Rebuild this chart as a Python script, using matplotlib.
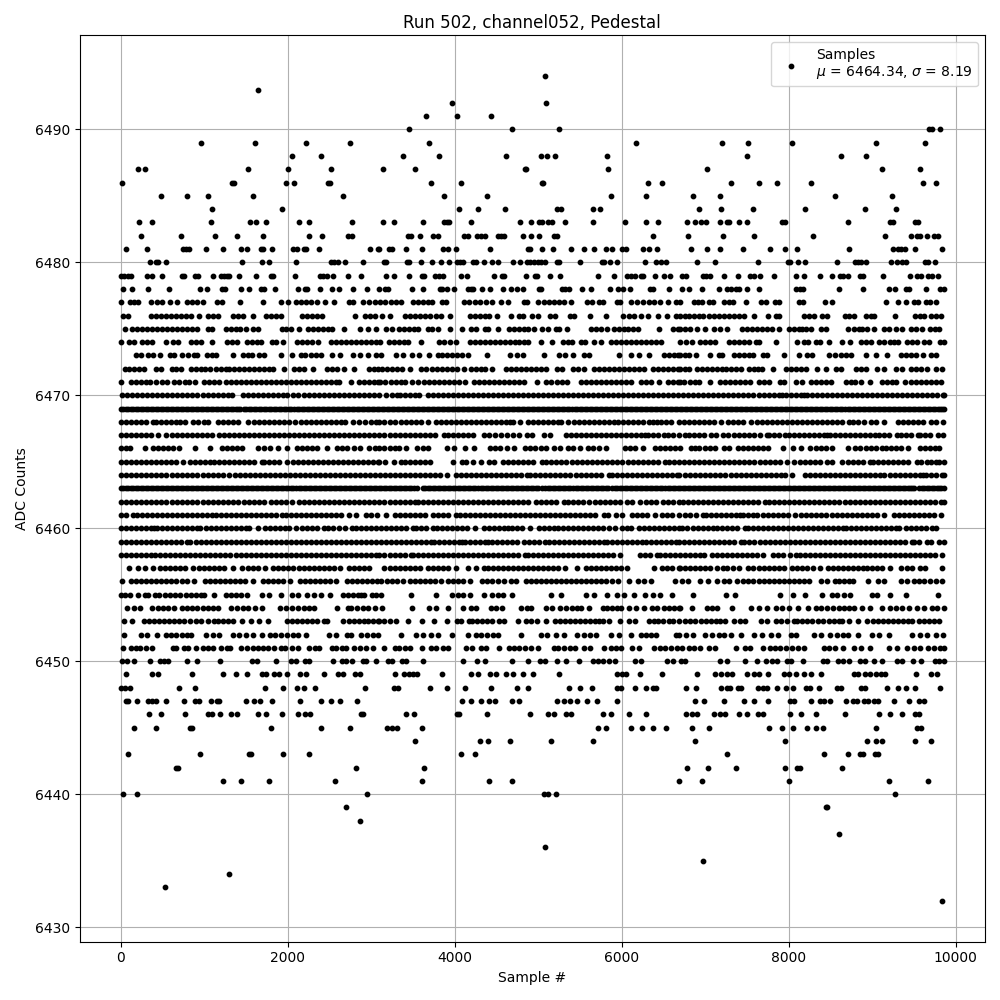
# Pedestal scan, ADC counts per sample
import matplotlib
matplotlib.use('Agg')
import matplotlib.pyplot as plt

# sample numbers, one list per ADC level
# (inside the solid bands single points can't be told apart, so spacing there is estimated)
s6432 = [9836]
s6433 = [536]
s6434 = [1292]
s6435 = [6980]
s6436 = [5084]
s6437 = [8600]
s6438 = [2864]
s6439 = [2696, 8444, 8456]
s6440 = [32, 200, 2948, 5072, 5120, 5216, 9272]
s6441 = [1220, 1436, 1772, 2564, 3608, 4412, 4688, 6692, 6968, 8000, 9200, 9668]
s6442 = [668, 692, 2816, 3632, 6788, 7040, 7376, 7952, 8096, 8132, 8636]
s6443 = [92, 956, 1532, 1556, 1940, 2252, 4076, 4244, 7268, 8420, 8708, 8852, 8888, 9032, 9068]
s6444 = [3524, 4304, 4400, 4664, 5156, 5660, 6884, 7952, 8936, 9044, 9116, 9512, 9704]
s6445 = [164, 428, 836, 860, 1796, 2396, 2744, 3188, 3248, 3308, 3608, 5720, 5816, 6116, 6248, 6380, 6536,
         6848, 7052, 7760, 7916, 8048, 8216, 8324, 8408, 9044, 9536, 9584]
s6446 = [344, 488, 776, 1040, 1088, 1184, 1316, 1388, 1640, 1736, 1928, 2120, 2204, 2264, 2876, 2900, 3416,
         3512, 4028, 4052, 4388, 4904, 5120, 5192, 5336, 5396, 5780, 5876, 6092, 6296, 6776, 6848, 6908, 7112,
         7184, 7244, 7412, 7508, 7628, 7688, 8012, 8144, 8324, 8672, 9080, 9212, 9356, 9512, 9560]
s6447 = [68, 92, 200, 332, 380, 428, 544, 764, 896, 944, 1076, 1148, 1172, 1496, 1592, 1664, 1808, 2144, 2396,
         2516, 2624, 2828, 4088, 4196, 4316, 4412, 4484, 4688, 4772, 5228, 5312, 5384, 5468, 5588, 5708, 5948,
         6884, 6992, 7232, 7472, 7592, 7748, 8012, 8060, 8264, 8372, 8420, 8492, 8684, 8768, 8816, 8900, 8948,
         9020, 9068, 9260, 9440, 9560, 9620]
s6448 = [0, 56, 116, 704, 896, 1724, 1940, 2108, 2192, 2324, 2924, 3272, 3320, 3704, 3904, 4124, 4432, 4748,
         4880, 5372, 5504, 5648, 5948, 5996, 6164, 6296, 6380, 6416, 6776, 6896, 7196, 7268, 7304, 7400, 7436,
         7628, 7688, 7736, 7856, 7964, 8048, 8204, 8252, 8360, 8576, 8624, 8864, 8912, 9176, 9308, 9404, 9512, 9812]
s6449 = [68, 380, 452, 860, 1220, 1376, 1508, 1688, 1736, 1832, 1892, 1988, 2144, 2216, 2432, 2600, 2660, 2804,
         2864, 3284, 3392, 3452, 3500, 3548, 3848, 4196, 4280, 4424, 4496, 4616, 4700, 4820, 4940, 5252, 5948,
         6008, 6056, 6224, 6488, 6908, 7124, 7196, 7268, 7328, 7508, 7592, 7640, 7748, 7940, 8000, 8088, 8180,
         8264, 8384, 8780, 8828, 8912, 8972, 9044, 9104, 9152, 9524, 9704, 9776]
s6450 = [20, 80, 164, 356, 476, 524, 572, 800, 920, 1184, 1568, 1628, 1856, 2036, 2096, 2204, 2252, 2540, 2648,
         2696, 2768, 2900, 2936, 3056, 3200, 3248, 3368, 3416, 3620, 4100, 4268, 4364, 4688, 4880, 5024, 5084,
         5228, 5336, 5492, 5660, 5720, 5780, 5852, 5924, 6164, 6236, 6548, 6620, 6716, 6764, 7184, 7268, 7484,
         7616, 7724, 7796, 7856, 7976, 8024, 8176, 8408, 8456, 8588, 8648, 8720, 8852, 8912, 9020, 9116, 9296,
         9356, 9488, 9584, 9752, 9800, 9860]
s6451 = [32, 128, 188, 236, 308, 380, 632, 668, 764, 812, 908, 980, 1040, 1100, 1196, 1268, 1304, 1436, 1508,
         1580, 1640, 1700, 1760, 1832, 1916, 1964, 2048, 2120, 2252, 2324, 2372, 2528, 2576, 2648, 2696, 2792,
         2864, 2936, 3020, 3152, 3284, 3332, 3404, 3464, 3604, 3716, 3776, 3860, 3920, 4136, 4208, 4316, 4376,
         4532, 4652, 4712, 4772, 4844, 4916, 5000, 5192, 5240, 5312, 5384, 5444, 5552, 5624, 5792, 5876, 5936,
         5996, 6128, 6212, 6392, 6464, 6524, 6596, 6668, 6728, 6812, 6872, 6944, 7052, 7124, 7376, 7484, 7544,
         7688, 7772, 7832, 7892, 7964, 8036, 8108, 8180, 8420, 8480, 8552, 8648, 8780, 8872, 8972, 9200, 9296,
         9416, 9500, 9572, 9668, 9740, 9812, 9860]
s6452 = [36, 240, 312, 440, 548, 604, 660, 740, 790, 840, 1020, 1100, 1172, 1340, 1412, 1496, 1588, 1688, 1788,
         1850, 1920, 1990, 2060, 2120, 2220, 2492, 2580, 2708, 2760, 2880, 2950, 3020, 3080, 3352, 3540, 3620,
         3712, 3796, 3964, 4164, 4252, 4320, 4390, 4460, 4524, 4792, 5040, 5104, 5212, 5312, 5460, 5552, 5620,
         5692, 5872, 5964, 6112, 6228, 6290, 6350, 6412, 6652, 6684, 6770, 6852, 7004, 7084, 7164, 7224, 7316,
         7432, 7588, 7684, 7784, 7872, 8024, 8084, 8304, 8384, 8492, 8584, 8650, 8716, 8836, 8996, 9084, 9204,
         9484, 9572, 9664, 9764, 9844]
s6453 = [40, 140, 280, 340, 400, 460, 520, 580, 640, 700, 760, 830, 900, 960, 1040, 1112, 1170, 1230, 1290, 1350,
         1448, 1560, 1660, 1760, 1988, 2050, 2110, 2170, 2230, 2290, 2350, 2440, 2468, 2660, 2732, 2790, 2850,
         2910, 2960, 3020, 3080, 3092, 3160, 3230, 3292, 3444, 3612, 3752, 3904, 4032, 4072, 4172, 4212, 4270,
         4330, 4390, 4450, 4532, 4592, 4764, 4860, 4920, 4990, 5092, 5200, 5260, 5320, 5380, 5440, 5500, 5560,
         5620, 5680, 5732, 5772, 5852, 5980, 6092, 6164, 6324, 6392, 6432, 6500, 6564, 6612, 6692, 6760, 6824,
         6884, 6950, 7010, 7070, 7130, 7184, 7244, 7344, 7420, 7484, 7664, 7744, 7844, 7910, 7980, 8064, 8104,
         8164, 8224, 8284, 8350, 8410, 8480, 8540, 8604, 8644, 8724, 8836, 8944, 9010, 9070, 9130, 9190, 9250,
         9310, 9370, 9430, 9484, 9564, 9624, 9684, 9744, 9804]
s6454 = [80, 160, 232, 380, 450, 510, 570, 640, 740, 800, 860, 920, 980, 1040, 1100, 1160, 1320, 1392, 1460, 1530,
         1608, 1692, 1908, 1980, 2050, 2120, 2190, 2260, 2312, 2588, 2720, 2760, 2830, 2900, 2960, 3052, 3132,
         3492, 3692, 3772, 3924, 4104, 4192, 4252, 4432, 4492, 4572, 4792, 4872, 4920, 5092, 5172, 5264, 5340,
         5400, 5460, 5512, 5612, 5772, 5830, 5890, 5950, 5992, 6092, 6172, 6264, 6364, 6424, 6512, 6570, 6630,
         6692, 6704, 6844, 7024, 7084, 7144, 7324, 7552, 7644, 7744, 7844, 7924, 8004, 8112, 8236, 8324, 8390,
         8460, 8530, 8600, 8660, 8724, 8784, 8884, 8972, 9116, 9212, 9290, 9356, 9444, 9536, 9624, 9724, 9784, 9856]
s6455 = [0, 50, 108, 208, 288, 332, 412, 464, 532, 590, 650, 708, 780, 840, 900, 960, 1000, 1112, 1260, 1320, 1380,
         1440, 1512, 1688, 1780, 1920, 2048, 2120, 2232, 2320, 2400, 2508, 2660, 2720, 2780, 2840, 2880, 2920, 3008,
         3060, 3124, 3472, 3772, 3972, 4040, 4104, 4188, 4356, 4444, 4524, 4580, 4684, 5160, 5280, 5568, 5664, 5824,
         5940, 6024, 6144, 6280, 6372, 6460, 6600, 6856, 7252, 7360, 7900, 8056, 8200, 8404, 8524, 8584, 8664, 8740,
         9000, 9060, 9216, 9412, 9796]
s6456 = [12, 120, 180, 240, 300, 360, 420, 480, 540, 600, 660, 740, 800, 880, 1010, 1070, 1130, 1190, 1250, 1310,
         1370, 1430, 1490, 1590, 1700, 1770, 1830, 1890, 1940, 2028, 2150, 2210, 2270, 2330, 2390, 2450, 2510, 2576,
         2710, 2770, 2830, 2890, 2950, 3010, 3070, 3124, 3190, 3250, 3310, 3380, 3470, 3530, 3590, 3650, 3700, 3770,
         3840, 3920, 3980, 4040, 4100, 4190, 4330, 4390, 4450, 4520, 4596, 4670, 4730, 4850, 4910, 4970, 5030, 5090,
         5150, 5210, 5270, 5330, 5390, 5450, 5510, 5570, 5630, 5690, 5750, 5810, 5880, 5960, 6084, 6192, 6272, 6352,
         6644, 6724, 6792, 6944, 7036, 7144, 7224, 7284, 7384, 7450, 7512, 7580, 7640, 7700, 7760, 7820, 7880, 7940,
         8000, 8060, 8120, 8180, 8250, 8384, 8456, 8556, 8604, 8664, 8724, 8770, 8950, 9070, 9144, 9344, 9420, 9500,
         9564, 9624, 9700, 9770, 9835]
s6457 = [104, 212, 288, 392, 470, 530, 590, 650, 710, 765, 872, 940, 1000, 1060, 1120, 1180, 1240, 1340, 1456, 1520,
         1580, 1640, 1730, 1830, 1890, 1950, 2010, 2070, 2130, 2190, 2250, 2310, 2370, 2430, 2490, 2550, 2630, 2740,
         2800, 2860, 2920, 2980, 3160, 3220, 3280, 3340, 3400, 3460, 3520, 3585, 3680, 3740, 3805, 3860, 3920, 4016,
         4156, 4252, 4352, 4400, 4460, 4520, 4580, 4640, 4700, 4760, 4820, 4880, 4940, 5000, 5060, 5120, 5180, 5236,
         5320, 5460, 5572, 5630, 5690, 5750, 5810, 5870, 5930, 5990, 6070, 6392, 6480, 6540, 6600, 6684, 6700, 6760,
         6820, 6880, 6940, 7000, 7056, 7144, 7216, 7264, 7330, 7410, 7520, 7580, 7640, 7700, 7760, 7820, 7880, 7940,
         8036, 8100, 8160, 8220, 8296, 8380, 8472, 8530, 8590, 8650, 8716, 8772, 8830, 8890, 8936, 9000, 9060, 9120,
         9216, 9352, 9420, 9476, 9572, 9636, 9836]
s6458 = [0, 60, 120, 180, 240, 300, 360, 412, 468, 530, 590, 650, 710, 770, 830, 890, 950, 1010, 1070, 1130, 1190,
         1250, 1312, 1380, 1440, 1500, 1560, 1620, 1680, 1740, 1800, 1860, 1920, 1980, 2040, 2100, 2164, 2220, 2280,
         2340, 2400, 2460, 2520, 2580, 2640, 2700, 2760, 2820, 2880, 2940, 3000, 3060, 3092, 3160, 3220, 3280, 3340,
         3400, 3476, 3500, 3560, 3620, 3680, 3740, 3800, 3860, 3920, 3980, 4040, 4100, 4160, 4220, 4280, 4340, 4400,
         4460, 4520, 4580, 4640, 4700, 4760, 4844, 4880, 4940, 5000, 5060, 5120, 5180, 5240, 5300, 5360, 5420, 5480,
         5540, 5600, 5660, 5720, 5780, 5840, 5900, 5984, 6220, 6280, 6340, 6424, 6460, 6520, 6580, 6640, 6700, 6760,
         6820, 6880, 6940, 6988, 7080, 7140, 7200, 7260, 7320, 7380, 7440, 7500, 7560, 7620, 7696, 7812, 7870, 7930,
         8016, 8084, 8140, 8200, 8260, 8320, 8380, 8440, 8500, 8560, 8620, 8680, 8740, 8800, 8860, 8920, 8980, 9040,
         9100, 9160, 9220, 9280, 9340, 9400, 9460, 9520, 9580, 9640, 9700, 9760, 9836]
s6459 = [0, 60, 120, 180, 240, 300, 360, 420, 480, 540, 600, 660, 720, 792, 836, 900, 960, 1020, 1080, 1140, 1200,
         1260, 1320, 1380, 1440, 1500, 1560, 1620, 1680, 1740, 1800, 1860, 1920, 1980, 2040, 2100, 2160, 2220, 2280,
         2340, 2400, 2460, 2520, 2580, 2640, 2700, 2760, 2820, 2880, 2940, 3000, 3060, 3120, 3180, 3240, 3300, 3360,
         3420, 3480, 3540, 3600, 3660, 3716, 3752, 3812, 3872, 3932, 3992, 4052, 4092, 4124, 4184, 4244, 4304, 4364,
         4404, 4452, 4512, 4572, 4632, 4684, 4752, 4828, 4888, 4948, 5008, 5084, 5128, 5188, 5248, 5308, 5368, 5428,
         5488, 5548, 5608, 5668, 5728, 5784, 5820, 5880, 5940, 6000, 6060, 6120, 6180, 6244, 6292, 6352, 6412, 6472,
         6532, 6592, 6652, 6692, 6752, 6812, 6872, 6932, 6992, 7052, 7112, 7172, 7232, 7292, 7352, 7428, 7472, 7532,
         7592, 7652, 7712, 7772, 7832, 7892, 7952, 8012, 8072, 8132, 8192, 8252, 8312, 8372, 8432, 8492, 8552, 8612,
         8672, 8732, 8792, 8852, 8912, 8972, 9032, 9092, 9152, 9212, 9276, 9332, 9392, 9476, 9504, 9564, 9656, 9712,
         9804, 9856]
s6460 = [0, 60, 120, 180, 240, 300, 360, 404, 436, 496, 556, 616, 676, 736, 796, 856, 912, 956, 1016, 1076, 1136,
         1196, 1256, 1316, 1376, 1436, 1496, 1540, 1640, 1732, 1792, 1852, 1912, 1972, 2020, 2100, 2176, 2236, 2296,
         2356, 2432, 2488, 2548, 2620, 2688, 2772, 2820, 2880, 2940, 3000, 3060, 3120, 3180, 3240, 3300, 3360, 3420,
         3504, 3540, 3600, 3660, 3744, 3788, 3848, 3908, 3968, 4028, 4088, 4148, 4244, 4352, 4412, 4472, 4532, 4592,
         4644, 4688, 4748, 4808, 4904, 5012, 5072, 5132, 5192, 5240, 5300, 5360, 5420, 5480, 5540, 5600, 5660, 5720,
         5780, 5844, 5924, 6000, 6060, 6116, 6212, 6272, 6332, 6392, 6452, 6512, 6572, 6632, 6684, 6724, 6784, 6852,
         6912, 6972, 7032, 7096, 7144, 7204, 7264, 7324, 7384, 7476, 7512, 7572, 7632, 7692, 7752, 7812, 7872, 7932,
         7992, 8052, 8112, 8172, 8232, 8292, 8352, 8412, 8472, 8532, 8592, 8656, 8692, 8752, 8812, 8872, 8932, 8992,
         9052, 9112, 9172, 9232, 9292, 9324, 9412, 9472, 9532, 9592, 9652, 9716, 9772]
s6461 = [8, 60, 152, 196, 256, 316, 376, 436, 496, 556, 616, 676, 736, 796, 856, 916, 976, 1036, 1096, 1140, 1196,
         1256, 1316, 1376, 1436, 1496, 1556, 1616, 1676, 1736, 1796, 1856, 1932, 1976, 2036, 2096, 2156, 2216, 2276,
         2336, 2396, 2456, 2516, 2576, 2636, 2732, 2816, 2940, 3000, 3072, 3180, 3280, 3340, 3400, 3460, 3520, 3584,
         3640, 3744, 3800, 3860, 3920, 4012, 4060, 4120, 4180, 4240, 4300, 4360, 4420, 4480, 4540, 4600, 4660, 4720,
         4780, 4840, 4904, 4960, 5020, 5080, 5140, 5200, 5260, 5320, 5380, 5440, 5500, 5560, 5620, 5680, 5784, 5840,
         5932, 6008, 6120, 6180, 6240, 6300, 6404, 6480, 6540, 6600, 6684, 6764, 6824, 6890, 6976, 7012, 7072, 7132,
         7192, 7252, 7312, 7372, 7416, 7452, 7512, 7572, 7616, 7692, 7752, 7812, 7872, 7932, 7992, 8076, 8152, 8212,
         8272, 8332, 8392, 8452, 8516, 8580, 8640, 8700, 8760, 8820, 8880, 8940, 9000, 9060, 9144, 9260, 9320, 9380,
         9440, 9500, 9560, 9620, 9680, 9740, 9828]
s6462 = [0, 60, 120, 180, 240, 300, 360, 420, 480, 540, 620, 680, 740, 800, 860, 920, 980, 1040, 1100, 1160, 1220,
         1280, 1340, 1404, 1480, 1540, 1600, 1660, 1720, 1804, 1856, 1916, 1976, 2052, 2136, 2196, 2256, 2316, 2376,
         2436, 2496, 2556, 2616, 2676, 2736, 2796, 2856, 2916, 2976, 3032, 3092, 3160, 3220, 3280, 3340, 3400, 3460,
         3524, 3560, 3620, 3680, 3740, 3800, 3860, 3920, 3980, 4040, 4100, 4160, 4220, 4280, 4340, 4400, 4460, 4520,
         4580, 4640, 4700, 4760, 4820, 4884, 4980, 5040, 5100, 5160, 5220, 5312, 5360, 5420, 5480, 5540, 5612, 5680,
         5740, 5800, 5860, 5920, 5980, 6064, 6128, 6224, 6292, 6352, 6412, 6492, 6552, 6612, 6684, 6732, 6792, 6852,
         6912, 6972, 7032, 7092, 7152, 7212, 7272, 7332, 7392, 7452, 7512, 7572, 7632, 7716, 7764, 7824, 7884, 7944,
         8004, 8064, 8124, 8184, 8244, 8304, 8364, 8424, 8484, 8544, 8604, 8676, 8740, 8800, 8860, 8920, 8980, 9040,
         9100, 9160, 9220, 9280, 9340, 9400, 9460, 9520, 9580, 9640, 9700, 9760, 9820, 9856]
s6463 = [0, 60, 120, 180, 240, 300, 360, 420, 480, 540, 600, 660, 720, 780, 840, 900, 960, 1020, 1080, 1140, 1200,
         1260, 1320, 1380, 1440, 1500, 1560, 1620, 1680, 1740, 1800, 1860, 1920, 1980, 2040, 2100, 2160, 2220, 2280,
         2340, 2400, 2460, 2520, 2580, 2640, 2700, 2760, 2820, 2880, 2940, 3000, 3060, 3120, 3180, 3240, 3300, 3360,
         3420, 3480, 3544, 3620, 3680, 3740, 3800, 3860, 3920, 3980, 4040, 4100, 4160, 4220, 4280, 4340, 4400, 4460,
         4520, 4580, 4640, 4700, 4760, 4820, 4880, 4940, 5000, 5044, 5088, 5148, 5208, 5268, 5328, 5388, 5448, 5508,
         5568, 5628, 5688, 5748, 5808, 5884, 5920, 5980, 6040, 6100, 6160, 6220, 6280, 6340, 6400, 6460, 6520, 6580,
         6640, 6700, 6760, 6820, 6880, 6940, 7000, 7060, 7120, 7180, 7240, 7300, 7360, 7420, 7480, 7540, 7600, 7660,
         7720, 7780, 7840, 7900, 7960, 8020, 8080, 8140, 8200, 8260, 8320, 8380, 8440, 8500, 8560, 8620, 8680, 8740,
         8800, 8860, 8920, 8980, 9040, 9100, 9160, 9220, 9280, 9340, 9400, 9460, 9508, 9564, 9624, 9684, 9744, 9804, 9856]
# second pass over the two blackest bands, the first lists leave them too beaded
s6463_b = [30, 90, 150, 210, 270, 330, 390, 450, 510, 570, 630, 690, 750, 810, 870, 930, 990, 1050, 1110, 1170, 1230,
           1290, 1350, 1410, 1470, 1530, 1590, 1650, 1710, 1770, 1830, 1890, 1950, 2010, 2070, 2130, 2190, 2250, 2310,
           2370, 2430, 2490, 2550, 2610, 2670, 2730, 2790, 2850, 2910, 2970, 3030, 3090, 3150, 3210, 3270, 3330, 3390,
           3450, 3510, 3650, 3710, 3770, 3830, 3890, 3950, 4010, 4070, 4130, 4190, 4250, 4310, 4370, 4430, 4490, 4550,
           4610, 4670, 4730, 4790, 4850, 4910, 4970, 5118, 5178, 5238, 5298, 5358, 5418, 5478, 5538, 5598, 5658, 5718,
           5778, 5838, 5950, 6010, 6070, 6130, 6190, 6250, 6310, 6370, 6430, 6490, 6550, 6610, 6670, 6730, 6790, 6850,
           6910, 6970, 7030, 7090, 7150, 7210, 7270, 7330, 7390, 7450, 7510, 7570, 7630, 7690, 7750, 7810, 7870, 7930,
           7990, 8050, 8110, 8170, 8230, 8290, 8350, 8410, 8470, 8530, 8590, 8650, 8710, 8770, 8830, 8890, 8950, 9010,
           9070, 9130, 9190, 9250, 9310, 9370, 9430, 9484, 9594, 9654, 9714, 9774, 9830]
s6464 = [8, 68, 128, 188, 248, 308, 368, 428, 488, 540, 620, 680, 740, 800, 860, 920, 980, 1040, 1100, 1160, 1220,
         1300, 1368, 1428, 1488, 1548, 1608, 1668, 1728, 1788, 1848, 1908, 1968, 2028, 2088, 2148, 2208, 2268, 2328,
         2388, 2448, 2508, 2568, 2628, 2688, 2748, 2808, 2868, 2928, 2988, 3048, 3108, 3168, 3228, 3288, 3348, 3408,
         3468, 3528, 3588, 3648, 3708, 3768, 3828, 3904, 4012, 4072, 4132, 4192, 4252, 4312, 4372, 4432, 4492, 4552,
         4612, 4672, 4732, 4792, 4864, 4908, 4968, 5028, 5088, 5148, 5208, 5268, 5328, 5388, 5448, 5508, 5568, 5628,
         5688, 5748, 5844, 5880, 5940, 6000, 6060, 6124, 6180, 6240, 6300, 6360, 6420, 6480, 6540, 6600, 6660, 6684,
         6764, 6824, 6884, 6944, 7004, 7064, 7124, 7184, 7244, 7316, 7372, 7432, 7492, 7552, 7612, 7672, 7732, 7792,
         7852, 7912, 7956, 8044, 8192, 8252, 8312, 8372, 8432, 8492, 8552, 8612, 8672, 8732, 8792, 8852, 8912, 8972,
         9032, 9092, 9148, 9220, 9280, 9340, 9400, 9460, 9520, 9580, 9616, 9652, 9712, 9772, 9832, 9856]
s6465 = [0, 60, 120, 180, 240, 300, 360, 420, 480, 540, 600, 660, 752, 828, 888, 948, 1008, 1072, 1116, 1176, 1236,
         1296, 1356, 1416, 1476, 1536, 1596, 1692, 1716, 1776, 1836, 1896, 1992, 2060, 2120, 2180, 2240, 2300, 2360,
         2420, 2480, 2540, 2600, 2660, 2720, 2780, 2840, 2900, 2960, 3020, 3080, 3100, 3172, 3268, 3356, 3400, 3460,
         3520, 3580, 3640, 3704, 3980, 4084, 4132, 4224, 4312, 4412, 4472, 4580, 4640, 4700, 4760, 4820, 4880, 4940,
         5044, 5100, 5160, 5220, 5280, 5340, 5400, 5460, 5520, 5580, 5640, 5700, 5760, 5820, 5880, 5940, 6004, 6080,
         6140, 6200, 6260, 6320, 6380, 6440, 6524, 6572, 6632, 6692, 6752, 6812, 6872, 6932, 6992, 7052, 7112, 7172,
         7232, 7292, 7352, 7412, 7472, 7532, 7592, 7652, 7712, 7772, 7832, 7892, 7976, 8064, 8140, 8200, 8260, 8320,
         8380, 8456, 8516, 8636, 8712, 8772, 8832, 8892, 8976, 9012, 9072, 9132, 9192, 9252, 9312, 9372, 9432, 9536,
         9592, 9656, 9704, 9764, 9804, 9856]
s6466 = [0, 60, 112, 292, 388, 452, 508, 568, 628, 700, 892, 1072, 1208, 1268, 1328, 1388, 1452, 1648, 1720, 1792,
         1888, 1992, 2108, 2168, 2228, 2288, 2352, 2468, 2588, 2648, 2708, 2792, 2868, 2972, 3048, 3100, 3160, 3220,
         3280, 3332, 3412, 3552, 3620, 3684, 3912, 3992, 4124, 4228, 4424, 4480, 4540, 4624, 4712, 4840, 4900, 4964,
         5032, 5092, 5192, 5264, 5360, 5420, 5504, 5600, 5660, 5724, 5812, 6040, 6100, 6164, 6252, 6400, 6460, 6520,
         6580, 6640, 6696, 6832, 6876, 6924, 7004, 7060, 7116, 7232, 7292, 7396, 7452, 7512, 7572, 7632, 7692, 7748,
         7932, 8056, 8152, 8256, 8324, 8384, 8444, 8516, 8716, 8792, 8856, 8932, 8992, 9052, 9116, 9172, 9232, 9292,
         9352, 9436, 9572, 9632, 9692, 9756, 9804]
s6467 = [0, 60, 120, 180, 240, 300, 360, 452, 540, 616, 676, 736, 796, 856, 916, 976, 1036, 1096, 1172, 1240, 1300,
         1360, 1420, 1480, 1540, 1600, 1660, 1720, 1780, 1840, 1900, 1960, 2020, 2080, 2140, 2200, 2260, 2320, 2380,
         2440, 2500, 2560, 2620, 2680, 2740, 2800, 2860, 2920, 2980, 3040, 3100, 3160, 3220, 3280, 3340, 3400, 3460,
         3520, 3580, 3640, 3700, 3760, 3876, 3920, 3980, 4040, 4100, 4160, 4224, 4348, 4408, 4484, 4560, 4628, 4700,
         4772, 4868, 4932, 5076, 5140, 5332, 5392, 5452, 5512, 5572, 5632, 5692, 5752, 5812, 5872, 5932, 5992, 6052,
         6112, 6172, 6232, 6284, 6320, 6380, 6440, 6504, 6560, 6620, 6684, 6756, 6804, 6864, 6924, 6984, 7076, 7132,
         7212, 7272, 7348, 7412, 7472, 7532, 7592, 7652, 7736, 7764, 7824, 7884, 7956, 8000, 8060, 8120, 8180, 8240,
         8300, 8360, 8420, 8464, 8492, 8552, 8612, 8672, 8732, 8792, 8852, 8912, 8972, 9036, 9084, 9144, 9204, 9304,
         9344, 9404, 9464, 9548, 9580, 9640, 9700, 9796, 9844]
s6468 = [0, 60, 120, 180, 240, 300, 392, 420, 480, 540, 600, 660, 712, 768, 868, 928, 1000, 1040, 1168, 1228, 1288,
         1348, 1404, 1520, 1596, 1656, 1716, 1776, 1836, 1896, 1956, 2016, 2092, 2160, 2220, 2280, 2340, 2400, 2460,
         2520, 2580, 2640, 2692, 2780, 2860, 2924, 3000, 3064, 3100, 3160, 3224, 3280, 3356, 3420, 3480, 3540, 3600,
         3684, 3772, 3832, 3892, 3952, 4012, 4072, 4132, 4192, 4252, 4312, 4372, 4432, 4492, 4552, 4612, 4664, 4700,
         4784, 4880, 4940, 5000, 5060, 5120, 5180, 5236, 5280, 5356, 5428, 5488, 5548, 5608, 5668, 5728, 5788, 5848,
         5908, 5960, 6020, 6080, 6140, 6200, 6260, 6332, 6380, 6424, 6472, 6532, 6592, 6684, 6744, 6804, 6864, 6924,
         6984, 7044, 7108, 7192, 7276, 7332, 7392, 7452, 7548, 7620, 7680, 7740, 7800, 7860, 7920, 7980, 8040, 8100,
         8160, 8220, 8280, 8340, 8400, 8460, 8520, 8580, 8640, 8724, 8772, 8836, 8904, 8984, 9044, 9148, 9312, 9372,
         9432, 9492, 9552, 9608, 9704, 9764, 9848]
s6469 = [0, 60, 120, 180, 240, 300, 360, 420, 480, 540, 600, 660, 720, 780, 840, 900, 960, 1020, 1080, 1140, 1200,
         1260, 1320, 1380, 1432, 1476, 1536, 1596, 1656, 1716, 1776, 1836, 1896, 1956, 2016, 2076, 2136, 2196, 2256,
         2316, 2376, 2436, 2496, 2556, 2616, 2676, 2736, 2796, 2856, 2916, 2976, 3036, 3096, 3156, 3216, 3276, 3336,
         3396, 3456, 3516, 3576, 3636, 3696, 3756, 3816, 3876, 3936, 3996, 4056, 4116, 4176, 4236, 4296, 4356, 4416,
         4476, 4536, 4596, 4656, 4716, 4776, 4836, 4896, 4956, 5016, 5076, 5136, 5196, 5256, 5316, 5376, 5436, 5496,
         5556, 5616, 5676, 5736, 5796, 5856, 5916, 5976, 6036, 6096, 6156, 6216, 6276, 6336, 6396, 6456, 6516, 6576,
         6636, 6696, 6756, 6816, 6876, 6936, 6996, 7056, 7116, 7176, 7236, 7296, 7356, 7416, 7476, 7536, 7596, 7656,
         7716, 7776, 7836, 7896, 7956, 8016, 8076, 8136, 8196, 8256, 8316, 8376, 8436, 8496, 8556, 8616, 8676, 8736,
         8796, 8856, 8916, 8976, 9036, 9096, 9156, 9216, 9276, 9336, 9396, 9456, 9516, 9576, 9636, 9696, 9756, 9816, 9856]
s6469_b = [30, 90, 150, 210, 270, 330, 390, 450, 510, 570, 630, 690, 750, 810, 870, 930, 990, 1050, 1110, 1170, 1230,
           1290, 1350, 1410, 1506, 1566, 1626, 1686, 1746, 1806, 1866, 1926, 1986, 2046, 2106, 2166, 2226, 2286, 2346,
           2406, 2466, 2526, 2586, 2646, 2706, 2766, 2826, 2886, 2946, 3006, 3066, 3126, 3186, 3246, 3306, 3366, 3426,
           3486, 3546, 3606, 3666, 3726, 3786, 3846, 3906, 3966, 4026, 4086, 4146, 4206, 4266, 4326, 4386, 4446, 4506,
           4566, 4626, 4686, 4746, 4806, 4866, 4926, 4986, 5046, 5106, 5166, 5226, 5286, 5346, 5406, 5466, 5526, 5586,
           5646, 5706, 5766, 5826, 5886, 5946, 6006, 6066, 6126, 6186, 6246, 6306, 6366, 6426, 6486, 6546, 6606, 6666,
           6726, 6786, 6846, 6906, 6966, 7026, 7086, 7146, 7206, 7266, 7326, 7386, 7446, 7506, 7566, 7626, 7686, 7746,
           7806, 7866, 7926, 7986, 8046, 8106, 8166, 8226, 8286, 8346, 8406, 8466, 8526, 8586, 8646, 8706, 8766, 8826,
           8886, 8946, 9006, 9066, 9126, 9186, 9246, 9306, 9366, 9426, 9486, 9546, 9606, 9666, 9726, 9786, 9836]
s6470 = [20, 80, 140, 200, 260, 320, 372, 440, 500, 560, 620, 680, 740, 800, 860, 920, 980, 1040, 1100, 1160, 1220,
         1280, 1332, 1460, 1520, 1580, 1640, 1700, 1760, 1820, 1880, 1940, 1988, 2060, 2120, 2200, 2260, 2320, 2380,
         2440, 2500, 2560, 2620, 2680, 2740, 2800, 2860, 2920, 2980, 3040, 3100, 3180, 3244, 3310, 3340, 3400, 3460,
         3520, 3570, 3680, 3740, 3800, 3860, 3920, 3980, 4040, 4100, 4160, 4220, 4280, 4340, 4400, 4460, 4520, 4580,
         4640, 4700, 4760, 4820, 4880, 4940, 5000, 5060, 5120, 5180, 5240, 5300, 5360, 5420, 5480, 5540, 5600, 5660,
         5720, 5780, 5840, 5900, 5960, 6020, 6080, 6140, 6200, 6260, 6320, 6380, 6440, 6500, 6560, 6620, 6680, 6740,
         6800, 6860, 6920, 6980, 7040, 7100, 7160, 7220, 7280, 7340, 7400, 7460, 7520, 7580, 7640, 7700, 7760, 7820,
         7880, 7916, 7972, 8032, 8092, 8152, 8188, 8224, 8284, 8344, 8404, 8464, 8524, 8584, 8644, 8704, 8764, 8824,
         8884, 8944, 9004, 9064, 9124, 9184, 9244, 9304, 9364, 9424, 9484, 9544, 9604, 9664, 9724, 9784, 9844, 9856]
s6471 = [8, 120, 180, 240, 300, 352, 420, 500, 560, 640, 700, 772, 820, 892, 1000, 1060, 1120, 1180, 1260, 1320, 1380,
         1440, 1500, 1560, 1620, 1680, 1740, 1800, 1860, 1920, 1980, 2040, 2100, 2160, 2220, 2280, 2340, 2400, 2460,
         2520, 2580, 2620, 2760, 2860, 2920, 2980, 3040, 3088, 3112, 3172, 3232, 3292, 3352, 3404, 3492, 3564, 3632,
         3692, 3752, 3812, 3872, 3932, 3992, 4052, 4124, 4232, 4292, 4352, 4412, 4472, 4532, 4592, 4652, 4712, 4772,
         4832, 4992, 5100, 5160, 5232, 5292, 5352, 5512, 5572, 5632, 5692, 5752, 5812, 5872, 5932, 5992, 6052, 6112,
         6232, 6292, 6352, 6444, 6552, 6612, 6672, 6704, 6744, 6824, 6876, 6924, 7064, 7184, 7244, 7304, 7364, 7424,
         7484, 7544, 7644, 7704, 7764, 7892, 7944, 8084, 8156, 8264, 8324, 8384, 8444, 8504, 8684, 8744, 8796, 8872,
         8980, 9124, 9184, 9244, 9292, 9392, 9464, 9524, 9584, 9644, 9704, 9764, 9824]
s6472 = [48, 100, 160, 220, 280, 428, 480, 612, 668, 728, 840, 900, 960, 1012, 1068, 1140, 1200, 1260, 1300, 1360,
         1420, 1480, 1540, 1600, 1660, 1720, 1780, 1820, 1960, 2080, 2140, 2200, 2300, 2468, 2528, 2588, 2680, 2800,
         2980, 3040, 3080, 3132, 3192, 3252, 3312, 3372, 3460, 3600, 3652, 3732, 3792, 3852, 3912, 3972, 4032, 4112,
         4192, 4252, 4312, 4364, 4452, 4620, 4680, 4740, 4800, 4860, 4920, 4980, 5040, 5100, 5232, 5292, 5420, 5480,
         5544, 5672, 5732, 5792, 5852, 5912, 5972, 6032, 6092, 6152, 6212, 6272, 6372, 6432, 6492, 6552, 6612, 6672,
         6704, 6764, 6812, 6904, 6964, 7024, 7084, 7144, 7204, 7252, 7316, 7372, 7432, 7524, 7584, 7636, 7684, 7812,
         7964, 8024, 8084, 8144, 8212, 8344, 8452, 8564, 8624, 8804, 8864, 8924, 9056, 9148, 9292, 9356, 9472, 9532,
         9592, 9664, 9764, 9832]
s6473 = [180, 240, 328, 388, 476, 588, 640, 740, 808, 880, 920, 1028, 1088, 1140, 1344, 1460, 1520, 1572, 1652, 1720,
         1916, 2048, 2160, 2212, 2280, 2340, 2400, 2528, 2628, 2780, 2868, 2960, 3060, 3124, 3300, 3384, 3492, 3572,
         3692, 3804, 3852, 3904, 3972, 4032, 4092, 4164, 4392, 4664, 4752, 4820, 5072, 5252, 5320, 5412, 5552, 5604,
         5972, 6112, 6212, 6324, 6512, 6572, 6632, 6680, 6704, 6764, 6812, 6892, 7064, 7164, 7204, 7344, 7404, 7464,
         7524, 7572, 7692, 7744, 7948, 8124, 8224, 8276, 8484, 8552, 8632, 8684, 8744, 8932, 9044, 9184, 9344, 9404,
         9464, 9532, 9612, 9704, 9764]
s6474 = [8, 100, 160, 260, 320, 380, 540, 628, 688, 840, 900, 960, 1092, 1268, 1328, 1388, 1512, 1572, 1632, 1680,
         1812, 1860, 1944, 2112, 2172, 2232, 2292, 2360, 2520, 2580, 2640, 2700, 2760, 2820, 2880, 2940, 3000, 3060,
         3104, 3212, 3272, 3332, 3392, 3444, 3600, 3812, 3872, 3940, 4020, 4180, 4240, 4300, 4360, 4420, 4480, 4540,
         4600, 4660, 4720, 4772, 4832, 4884, 5032, 5164, 5300, 5360, 5404, 5512, 5564, 5672, 5752, 5872, 5932, 5992,
         6052, 6112, 6172, 6232, 6292, 6352, 6412, 6472, 6700, 6772, 6844, 6944, 7004, 7064, 7124, 7284, 7344, 7404,
         7464, 7532, 7604, 7644, 7852, 8104, 8184, 8236, 8324, 8372, 8484, 8644, 8740, 8864, 8924, 8984, 9084, 9144,
         9212, 9264, 9312, 9424, 9484, 9544, 9624, 9684, 9812, 9856]
s6475 = [56, 140, 200, 260, 320, 380, 440, 500, 560, 620, 680, 740, 800, 860, 920, 1040, 1088, 1260, 1320, 1380, 1428,
         1500, 1580, 1640, 1932, 1980, 2040, 2140, 2240, 2300, 2360, 2420, 2480, 2532, 2672, 2868, 2960, 3056, 3180,
         3244, 3332, 3392, 3452, 3512, 3564, 3684, 3732, 3804, 3948, 4092, 4192, 4260, 4364, 4404, 4524, 4652, 4712,
         4772, 4832, 4880, 4952, 5052, 5124, 5212, 5252, 5352, 5632, 5692, 5752, 5824, 5904, 5964, 6024, 6072, 6132,
         6192, 6452, 6612, 6672, 6704, 6764, 6824, 6904, 7004, 7104, 7184, 7264, 7444, 7504, 7564, 7624, 7684, 7744,
         7804, 7884, 8004, 8064, 8124, 8156, 8204, 8264, 8384, 8452, 8716, 8784, 8844, 8884, 8944, 9024, 9144, 9204,
         9284, 9364, 9464, 9524, 9604, 9692, 9756, 9804]
s6476 = [28, 88, 360, 420, 480, 540, 600, 660, 720, 780, 848, 940, 1040, 1100, 1160, 1340, 1400, 1460, 1588, 1740,
         1800, 1860, 1920, 2172, 2232, 2292, 2352, 2412, 2804, 2932, 2992, 3052, 3132, 3224, 3404, 3464, 3524, 3584,
         3644, 3704, 3772, 3832, 3944, 4180, 4240, 4300, 4360, 4412, 4512, 4680, 4772, 4820, 4924, 5004, 5140, 5204,
         5380, 5432, 5620, 5812, 6020, 6092, 6152, 6232, 6312, 6432, 6540, 6652, 6704, 6764, 6812, 6864, 6924, 6972,
         7052, 7112, 7172, 7232, 7292, 7352, 7412, 7472, 7584, 7756, 7844, 7884, 8184, 8244, 8304, 8404, 8464, 8672,
         8724, 8784, 8924, 8984, 9024, 9272, 9512, 9572, 9624, 9704, 9764, 9824]
s6477 = [8, 108, 160, 212, 368, 440, 492, 588, 672, 800, 860, 920, 980, 1148, 1212, 1424, 1704, 1916, 2000, 2100, 2160,
         2220, 2280, 2348, 2448, 2552, 2732, 2788, 2900, 2980, 3052, 3112, 3172, 3232, 3292, 3352, 3504, 3564, 3624,
         3684, 3732, 3852, 3900, 4112, 4172, 4244, 4304, 4372, 4452, 4552, 4644, 4832, 4872, 5004, 5072, 5132, 5192,
         5252, 5312, 5392, 5580, 5644, 5732, 5780, 5940, 5980, 6112, 6180, 6252, 6324, 6392, 6460, 6552, 6652, 6704,
         6864, 6916, 6964, 7052, 7096, 7224, 7284, 7332, 7496, 7672, 7732, 7836, 7884, 8124, 8172, 8436, 8516, 9172,
         9316, 9412, 9504, 9556, 9652, 9692, 9772]
s6478 = [32, 140, 332, 584, 956, 1028, 1208, 1244, 1436, 1532, 1676, 1720, 1844, 2120, 2204, 2228, 2384, 2528, 2612,
         2780, 2948, 3092, 3164, 3200, 3488, 3620, 3824, 3848, 3908, 3992, 4160, 4196, 4220, 4328, 4424, 4580, 4676,
         4748, 4820, 5012, 5036, 5288, 5324, 5372, 5528, 5636, 5864, 5960, 6020, 6104, 6344, 6380, 6572, 6728, 6812,
         6968, 7172, 7268, 7316, 7376, 7412, 7508, 7640, 8084, 8132, 8168, 8600, 8888, 9200, 9272, 9404, 9440, 9644,
         9812, 9856]
s6479 = [8, 44, 84, 128, 320, 380, 500, 740, 764, 896, 932, 1100, 1196, 1232, 1268, 1292, 1412, 1616, 1796, 1820, 2084,
         2384, 2420, 2468, 2540, 2720, 2876, 3176, 3272, 3452, 3608, 3632, 3764, 3812, 3860, 4076, 4148, 4472, 4568,
         4592, 4856, 4964, 4988, 5144, 5264, 5720, 5912, 6068, 6116, 6164, 6236, 6260, 6404, 6512, 6584, 6728, 6776,
         6980, 7016, 7064, 7232, 7400, 7544, 7592, 7652, 7820, 8084, 8180, 8372, 8516, 8612, 8648, 8708, 8852, 8888,
         9128, 9452, 9536, 9584, 9668, 9716, 9788]
s6480 = [356, 428, 452, 548, 1448, 1688, 1772, 2096, 2516, 2552, 2600, 2684, 2900, 3152, 3176, 3428, 3452, 3596, 3728,
         3836, 3932, 4028, 4064, 4100, 4220, 4256, 4352, 4448, 4520, 4700, 4784, 4868, 4904, 4952, 5000, 5036, 5088,
         5228, 5252, 5504, 5768, 5792, 5864, 5948, 6284, 6416, 6476, 6536, 6908, 7124, 7628, 7988, 8020, 8108, 8192,
         8576, 8792, 8828, 8864, 8924, 9224, 9296, 9356, 9404, 9632, 9668, 9752]
s6481 = [68, 320, 752, 788, 824, 1016, 1220, 1436, 1508, 1680, 1704, 1808, 2060, 2108, 2192, 2216, 2372, 2984, 3080,
         3100, 3212, 3248, 3416, 3608, 3860, 3920, 4016, 4424, 4880, 4904, 5048, 5180, 5396, 5552, 5672, 5816, 5888,
         6000, 6056, 6260, 6332, 6428, 6836, 7028, 7184, 7460, 7772, 7952, 8096, 8720, 9248, 9308, 9344, 9392, 9512, 9836]
s6482 = [248, 728, 1124, 1388, 1700, 2252, 2408, 2720, 2768, 3440, 3476, 3584, 3740, 3800, 4112, 4160, 4268, 4316,
         4364, 4520, 4556, 4592, 4820, 4916, 5012, 5192, 5228, 6380, 6800, 7220, 7592, 8288, 9152, 9464, 9536, 9572,
         9656, 9740, 9788]
s6483 = [224, 380, 1076, 1544, 1616, 1736, 2132, 2252, 2768, 3140, 3272, 3620, 3872, 3904, 3936, 4196, 4784, 4916,
         5012, 5048, 5120, 5168, 5324, 5660, 6044, 6296, 6440, 6788, 6884, 6956, 7016, 7184, 7268, 7292, 7412, 7508,
         7916, 7952, 8708, 9212, 9248, 9512, 9548]
s6484 = [1088, 1928, 4052, 4280, 4604, 5228, 5276, 5660, 5744, 6932, 7196, 7580, 8192, 8912, 9284]
s6485 = [488, 800, 1040, 1580, 2660, 3872, 4388, 5876, 6296, 6860, 7184, 8552, 9236]
s6486 = [20, 1336, 1352, 1976, 2072, 2480, 2504, 3716, 4076, 5048, 5060, 6320, 6488, 7316, 7640, 7856, 8264, 9608, 9764]
s6487 = [212, 296, 1520, 2000, 2516, 3140, 3524, 4844, 4860, 5840, 7028, 9116, 9572]
s6488 = [2048, 2396, 3380, 3812, 4616, 5036, 5108, 5204, 5828, 7508, 8624, 8924]
s6489 = [968, 1604, 2216, 2744, 3692, 6176, 7208, 7520, 8036, 9044, 9632]
s6490 = [3452, 4688, 5252, 9680, 9716, 9812]
s6491 = [3656, 4028, 4436]
s6492 = [3968, 5096]
s6493 = [1640]
s6494 = [5084]

levels = [6432, 6433, 6434, 6435, 6436, 6437, 6438, 6439, 6440, 6441, 6442, 6443, 6444, 6445, 6446, 6447,
          6448, 6449, 6450, 6451, 6452, 6453, 6454, 6455, 6456, 6457, 6458, 6459, 6460, 6461, 6462, 6463, 6463,
          6464, 6465, 6466, 6467, 6468, 6469, 6469, 6470, 6471, 6472, 6473, 6474, 6475, 6476, 6477, 6478, 6479,
          6480, 6481, 6482, 6483, 6484, 6485, 6486, 6487, 6488, 6489, 6490, 6491, 6492, 6493, 6494]
samples = [s6432, s6433, s6434, s6435, s6436, s6437, s6438, s6439, s6440, s6441, s6442, s6443, s6444, s6445,
           s6446, s6447, s6448, s6449, s6450, s6451, s6452, s6453, s6454, s6455, s6456, s6457, s6458, s6459,
           s6460, s6461, s6462, s6463, s6463_b, s6464, s6465, s6466, s6467, s6468, s6469, s6469_b, s6470, s6471,
           s6472, s6473, s6474, s6475, s6476, s6477, s6478, s6479, s6480, s6481, s6482, s6483, s6484, s6485, s6486,
           s6487, s6488, s6489, s6490, s6491, s6492, s6493, s6494]

x = []
y = []
for level, row in zip(levels, samples):
    x += row
    y += [level] * len(row)

fig, ax = plt.subplots(figsize=(10, 10), dpi=100)
ax.scatter(x, y, s=10, c='k', zorder=2, label='Samples\n$\\mu$ = 6464.34, $\\sigma$ = 8.19')
ax.set_title('Run 502, channel052, Pedestal', pad=5.3)
ax.set_xlabel('Sample #')
ax.set_ylabel('ADC Counts')
ax.grid(True)
ax.legend(loc='upper right')
plt.tight_layout()
fig.subplots_adjust(top=0.965)
plt.savefig('out.png')
